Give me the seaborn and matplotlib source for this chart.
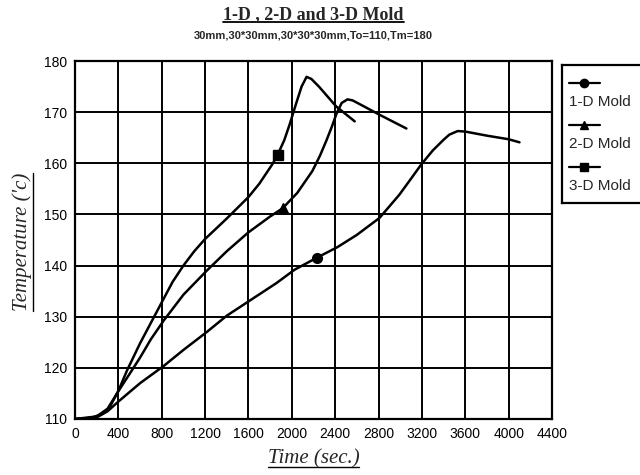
import numpy as np
import pandas as pd
import matplotlib
matplotlib.use("Agg")
import matplotlib.pyplot as plt
from matplotlib.lines import Line2D
import seaborn as sns

# ---- data ----
t_1d = [0, 200, 300, 405, 600, 820, 1000, 1215, 1400, 1630, 1860, 2026, 2228, 2420, 2600,
        2808, 2990, 3100, 3195, 3300, 3400, 3453, 3530, 3600, 3800, 4000, 4100]
T_1d = [110, 110.3, 111.5, 113.5, 117.0, 120.4, 123.5, 127.0, 130.2, 133.4, 136.6, 139.2, 141.5, 143.6, 146.0,
        149.3, 153.8, 157.0, 159.8, 162.5, 164.6, 165.6, 166.3, 166.2, 165.4, 164.7, 164.1]

t_2d = [0, 200, 300, 405, 500, 600, 700, 820, 1000, 1215, 1400, 1600, 1800, 1915, 2050, 2190,
        2260, 2320, 2370, 2412, 2460, 2514, 2560, 2650, 2808, 3057]
T_2d = [110, 110.5, 112.0, 115.6, 118.7, 122.0, 125.6, 129.3, 134.3, 139.0, 142.8, 146.5, 149.6, 151.2, 154.2, 158.5,
        161.5, 164.5, 167.2, 169.7, 171.8, 172.5, 172.3, 171.3, 169.5, 166.8]

t_3d = [0, 150, 250, 320, 400, 480, 600, 780, 900, 1000, 1100, 1200, 1400, 1600, 1700, 1820,
        1870, 1930, 1980, 2040, 2090, 2136, 2180, 2250, 2410, 2580]
T_3d = [110, 110.2, 111.0, 112.3, 115.5, 119.5, 124.8, 132.0, 136.8, 140.0, 142.8, 145.2, 149.2, 153.4, 156.0, 159.8,
        161.7, 164.5, 167.6, 171.7, 175.0, 176.9, 176.5, 175.0, 171.1, 168.2]

marker_t = [2228, 1915, 1870]
marker_T = [141.5, 151.2, 161.7]
series_names = ["1-D Mold", "2-D Mold", "3-D Mold"]
series_markers = ["o", "^", "s"]

x_ticks = list(range(0, 4401, 400))
y_ticks = list(range(110, 181, 10))

title = "1-D , 2-D and 3-D Mold"
subtitle = "30mm,30*30mm,30*30*30mm,To=110,Tm=180"
x_label = "Time (sec.)"
y_label = "Temperature ('c)"

# ---- build table ----
df = pd.concat([
    pd.DataFrame({"t": t_1d, "T": T_1d, "s": series_names[0]}),
    pd.DataFrame({"t": t_2d, "T": T_2d, "s": series_names[1]}),
    pd.DataFrame({"t": t_3d, "T": T_3d, "s": series_names[2]}),
])

sns.set_style("white")
plt.rcParams["font.family"] = ["Liberation Sans", "DejaVu Sans"]

fig = plt.figure(figsize=(6.4, 4.75), dpi=100)
ax = fig.add_axes([75/640, 1-419/475, (552-75)/640, (419-61)/475])

sns.lineplot(data=df, x="t", y="T", units="s", estimator=None, sort=False,
             color="black", lw=1.8, ax=ax)
for tm, Tm, mk in zip(marker_t, marker_T, series_markers):
    ax.plot([tm], [Tm], marker=mk, color="black", ms=7, ls="none")

ax.set_xlim(0, 4400)
ax.set_ylim(110, 180)
ax.set_xticks(x_ticks)
ax.set_yticks(y_ticks)
ax.grid(True, color="black", lw=1.4)
for sp in ax.spines.values():
    sp.set_visible(True)
    sp.set_color("black")
    sp.set_linewidth(1.6)
ax.tick_params(direction="inout", length=7, width=1.4, color="black",
               labelsize=10, labelcolor="black", pad=2)
ax.set_xlabel("")
ax.set_ylabel("")

serif = ["Liberation Serif", "DejaVu Serif"]
txt_title = fig.text((75+552)/2/640, 1-15/475, title, ha="center", va="center",
                     fontsize=13, fontweight="bold", family=serif)
txt_sub = fig.text((75+552)/2/640, 1-35/475, subtitle, ha="center", va="center",
                   fontsize=8, fontweight="bold", family=["Liberation Sans", "DejaVu Sans"])
txt_x = fig.text((75+552)/2/640, 1-459/475, x_label, ha="center", va="center",
                 fontsize=15, fontstyle="italic", family=serif)
txt_y = fig.text(22/640, 1-242/475, y_label, ha="center", va="center", rotation=90,
                 fontsize=15, fontstyle="italic", family=serif)

# underline helper
fig.canvas.draw()
r = fig.canvas.get_renderer()
inv = fig.transFigure.inverted()
for t_obj, vert, lw in [(txt_title, False, 1.3), (txt_x, False, 1.0), (txt_y, True, 1.0)]:
    bb = t_obj.get_window_extent(r).transformed(inv)
    if not vert:
        fig.add_artist(Line2D([bb.x0, bb.x1], [bb.y0 + 0.004, bb.y0 + 0.004],
                              color="black", lw=lw, transform=fig.transFigure))
    else:
        fig.add_artist(Line2D([bb.x1 + 0.001, bb.x1 + 0.001], [bb.y0, bb.y1],
                              color="black", lw=lw, transform=fig.transFigure))

# legend (handle above label)
lax = fig.add_axes([562/640, 1-203/475, 90/640, (203-65)/475])
lax.set_xlim(0, 90)
lax.set_ylim(138, 0)
lax.set_xticks([])
lax.set_yticks([])
for sp in ["top", "left", "bottom"]:
    lax.spines[sp].set_linewidth(1.6)
    lax.spines[sp].set_color("black")
lax.spines["right"].set_visible(False)
lax.patch.set_alpha(0)
for i, (nm, mk) in enumerate(zip(series_names, series_markers)):
    yh = 18 + i * 42
    lax.plot([7, 38], [yh, yh], color="black", lw=1.6)
    lax.plot([22], [yh], color="black", marker=mk, ms=6)
    lax.text(7, yh + 19, nm, fontsize=11, va="center", ha="left")

fig.savefig("out.png", dpi=100)
